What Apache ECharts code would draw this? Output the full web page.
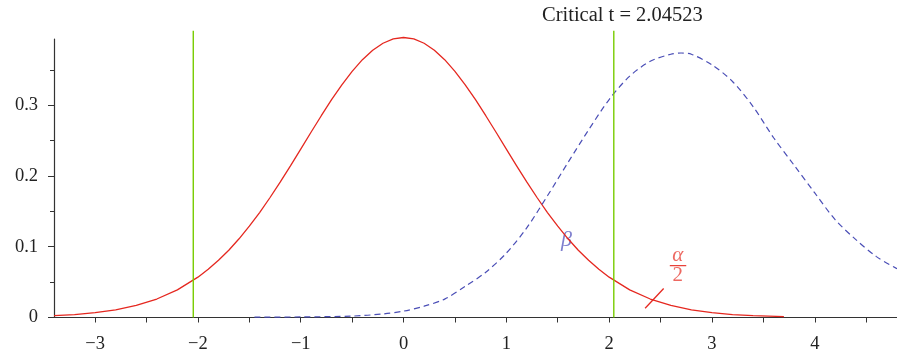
<!DOCTYPE html>
<html><head><meta charset="utf-8">
<script src="https://cdn.jsdelivr.net/npm/echarts@6/dist/echarts.min.js"></script>
<style>html,body{margin:0;padding:0;background:#fff}#c{width:897px;height:355px}</style>
</head><body><div id="c"></div>
<script>
// ---- data ----
const redX = [-3.4,-3.2,-3.0,-2.8,-2.6,-2.4,-2.2,-2.0,-1.9,-1.8,-1.7,-1.6,-1.5,-1.4,-1.3,-1.2,-1.1,-1.0,-0.9,-0.8,-0.7,-0.6,-0.5,-0.4,-0.3,-0.2,-0.1,0,
  0.1,0.2,0.3,0.4,0.5,0.6,0.7,0.8,0.9,1.0,1.1,1.2,1.3,1.4,1.5,1.6,1.7,1.8,1.9,2.0,2.2,2.4,2.6,2.8,3.0,3.2,3.4,3.7];
const redY = [0.0026,0.0042,0.0069,0.0109,0.0171,0.0261,0.0391,0.0570,0.0681,0.0808,0.0951,0.1112,0.1290,0.1483,0.1692,0.1912,0.2143,0.2379,0.2617,0.2851,0.3077,0.3288,0.3478,0.3643,0.3776,0.3875,0.3936,0.3956,
  0.3936,0.3875,0.3776,0.3643,0.3478,0.3288,0.3077,0.2851,0.2617,0.2379,0.2143,0.1912,0.1692,0.1483,0.1290,0.1112,0.0951,0.0808,0.0681,0.0570,0.0391,0.0261,0.0171,0.0109,0.0069,0.0042,0.0026,0.0012];
const blueX = [-1.45,-1.0,-0.5,-0.2,0.0,0.2,0.4,0.6,0.8,1.0,1.2,1.4,1.6,1.8,2.0,2.2,2.4,2.6,2.7,2.8,3.0,3.2,3.4,3.6,3.8,4.0,4.2,4.4,4.6,4.8];
const blueY = [0.0006,0.0008,0.002,0.005,0.009,0.016,0.026,0.044,0.064,0.091,0.127,0.172,0.219,0.265,0.308,0.341,0.362,0.372,0.3737,0.372,0.357,0.3335,0.298,0.254,0.215,0.176,0.138,0.110,0.086,0.069];
const critT = 2.04523;
const critLineY = [0, 0.405];
const titleText = 'Critical t = 2.04523';
const xLabelValues = [-3,-2,-1,0,1,2,3,4];
const xTickValues = [-3,-2.5,-2,-1.5,-1,-0.5,0,0.5,1,1.5,2,2.5,3,3.5,4,4.5];
const yLabelValues = [0,0.1,0.2,0.3];
const yMinorValues = [0.05,0.15,0.25,0.35];
const leaderX = [2.35,2.53], leaderY = [0.013,0.041];
const fracX = [2.59,2.75], fracY = [0.0733,0.0733];
const annX = [1.585, 2.668, 2.668];
const annY = [0.1096, 0.087, 0.0595];
const annText = ['β','α','2'];

// ---- chart ----
const chart = echarts.init(document.getElementById('c'), null, {renderer:'canvas'});
const serif = '"Liberation Serif", "DejaVu Serif", serif';
const RED = '#e5271f', BLUE = '#4a4eb6', GREEN = '#78cc00';
const xy = (xs, ys) => xs.map((x,i)=>[x, ys[i]]);
const annColors = ['#5f5fc2', '#e8423a', '#e8423a'];
const annStyle = [{fontStyle:'italic', fontSize:22}, {fontStyle:'italic', fontSize:21}, {fontSize:21}];

chart.setOption({
  animation:false,
  backgroundColor:'#fff',
  title:{text:titleText, left:542, top:5, padding:0,
    textStyle:{fontFamily:serif, fontSize:20.5, fontWeight:'normal', color:'#222'}},
  grid:{left:54, top:39, width:844.6, height:278.5, containLabel:false},
  xAxis:{type:'value', min:-3.4, max:4.8,
    axisLine:{onZero:false, lineStyle:{color:'#333', width:1.2}},
    axisTick:{show:true, length:5, customValues:xTickValues, lineStyle:{color:'#333'}},
    axisLabel:{customValues:xLabelValues, margin:17, fontFamily:serif, fontSize:18.5, color:'#222',
      formatter:v=>String(v).replace('-','\u2212')},
    splitLine:{show:false}},
  yAxis:[{type:'value', min:0, max:0.3935, interval:0.1,
    axisLine:{show:true, onZero:false, lineStyle:{color:'#333', width:1.2}},
    axisTick:{show:true, length:6, customValues:yLabelValues, lineStyle:{color:'#333'}},
    axisLabel:{customValues:yLabelValues, margin:16, fontFamily:serif, fontSize:18.5, color:'#222'},
    splitLine:{show:false}},
   {type:'value', min:0, max:0.3935, position:'left',
    axisLine:{show:false, onZero:false},
    axisTick:{show:true, length:4, customValues:yMinorValues, lineStyle:{color:'#333'}},
    axisLabel:{show:false}, splitLine:{show:false}}],
  series:[
    {type:'line', data:xy(redX, redY), symbol:'none', clip:false, lineStyle:{color:RED, width:1.3}},
    {type:'line', data:xy(blueX, blueY), symbol:'none', smooth:0.3, lineStyle:{color:BLUE, width:1.2, type:[6,4]}},
    {type:'line', data:xy([-critT,-critT], critLineY), symbol:'none', clip:false, lineStyle:{color:GREEN, width:1.4}},
    {type:'line', data:xy([critT,critT], critLineY), symbol:'none', clip:false, lineStyle:{color:GREEN, width:1.4}},
    {type:'line', data:xy(leaderX, leaderY), symbol:'none', lineStyle:{color:RED, width:1.3}},
    {type:'line', data:xy(fracX, fracY), symbol:'none', lineStyle:{color:'#e8423a', width:1.4}},
    {type:'scatter', symbolSize:0, clip:false,
      data:annX.map((x,i)=>({value:[x, annY[i]],
        label:{show:true, position:'inside', formatter:annText[i], fontFamily:serif,
          color:annColors[i], ...annStyle[i]}}))}
  ]
});
</script></body></html>
